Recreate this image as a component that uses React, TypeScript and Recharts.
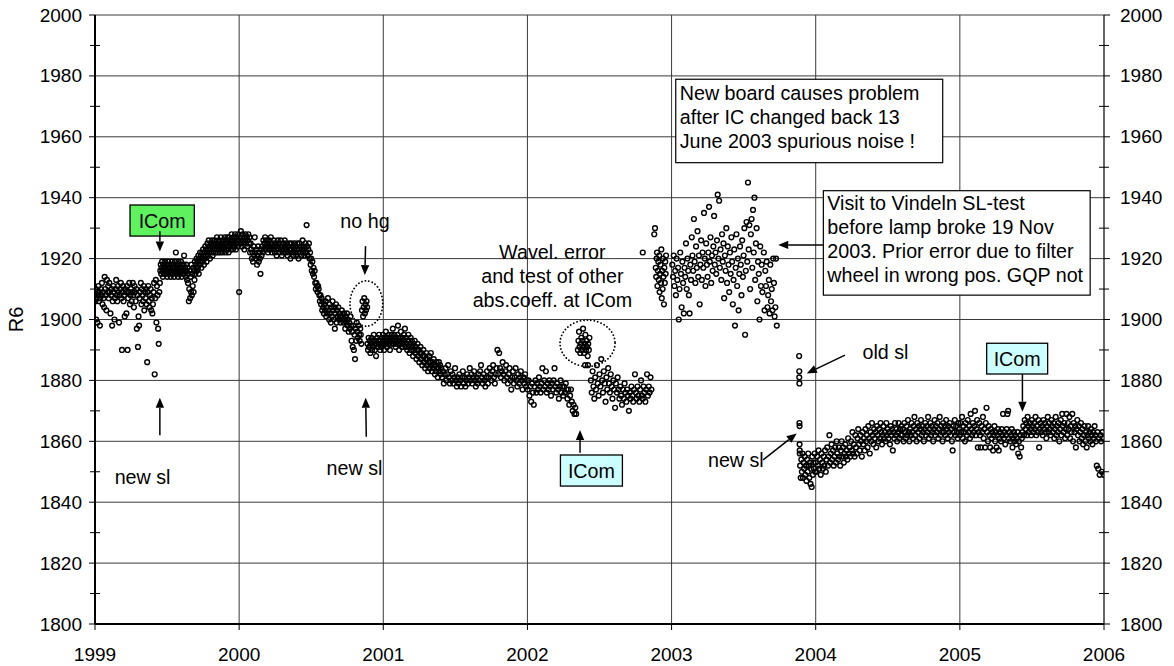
import React from 'react';
import { ScatterChart, Scatter, XAxis, YAxis, CartesianGrid, ReferenceLine, ReferenceArea, ReferenceDot } from 'recharts';

const FONT = '"Liberation Sans", Arial, Helvetica, sans-serif';
const TICK_FONT = 19;
const ANN_FONT = 19.7;
const LINE_H = 24.2;

const years = [1999, 2000, 2001, 2002, 2003, 2004, 2005, 2006];
const yTicks = [1800, 1810, 1820, 1830, 1840, 1850, 1860, 1870, 1880, 1890, 1900, 1910, 1920, 1930, 1940, 1950, 1960, 1970, 1980, 1990, 2000];
const gridY = [1820, 1840, 1860, 1880, 1900, 1920, 1940, 1960, 1980, 2000];
const gridX = [2000, 2001, 2002, 2003, 2004, 2005];

// R6 readings, [decimal year, R6]
const r6_1999 = [
  [1999.000,1908],[1999.003,1906],[1999.006,1910],[1999.008,1900],[1999.010,1907],[1999.014,1909],[1999.017,1899],[1999.020,1908],[1999.024,1911],[1999.027,1906],
  [1999.031,1909],[1999.034,1898],[1999.037,1907],[1999.041,1910],[1999.045,1908],[1999.048,1912],[1999.052,1905],[1999.056,1909],[1999.060,1907],[1999.063,1904],
  [1999.067,1914],[1999.071,1910],[1999.075,1908],[1999.079,1903],[1999.083,1913],[1999.087,1909],[1999.091,1911],[1999.095,1907],[1999.099,1912],[1999.103,1909],
  [1999.107,1902],[1999.111,1908],[1999.115,1910],[1999.119,1898],[1999.123,1906],[1999.127,1911],[1999.131,1909],[1999.135,1900],[1999.139,1907],[1999.143,1910],
  [1999.147,1913],[1999.151,1908],[1999.155,1906],[1999.159,1911],[1999.163,1909],[1999.167,1899],[1999.171,1908],[1999.175,1910],[1999.179,1912],[1999.183,1907],
  [1999.187,1890],[1999.190,1909],[1999.194,1911],[1999.198,1906],[1999.202,1908],[1999.206,1901],[1999.210,1910],[1999.214,1909],[1999.218,1902],[1999.222,1911],
  [1999.226,1890],[1999.230,1907],[1999.234,1909],[1999.238,1912],[1999.242,1905],[1999.246,1908],[1999.250,1910],[1999.254,1906],[1999.258,1909],[1999.262,1912],
  [1999.266,1908],[1999.270,1904],[1999.274,1911],[1999.278,1909],[1999.282,1906],[1999.286,1910],[1999.290,1897],[1999.294,1908],[1999.298,1891],[1999.302,1901],
  [1999.306,1898],[1999.310,1907],[1999.314,1909],[1999.318,1912],[1999.322,1905],[1999.326,1910],[1999.330,1908],[1999.334,1906],[1999.338,1911],[1999.342,1903],
  [1999.346,1909],[1999.350,1907],[1999.354,1910],[1999.358,1905],[1999.362,1886],[1999.366,1909],[1999.370,1911],[1999.374,1906],[1999.378,1904],[1999.382,1908],
  [1999.386,1910],[1999.390,1903],[1999.394,1907],[1999.398,1902],[1999.402,1905],[1999.406,1909],[1999.410,1912],[1999.414,1882],[1999.418,1907],[1999.422,1913],
  [1999.426,1899],[1999.430,1911],[1999.434,1908],[1999.438,1897],[1999.442,1892],[1999.446,1909],[1999.450,1912],
  [1999.453,1916],[1999.456,1918],[1999.459,1915],[1999.462,1917],[1999.465,1919],[1999.468,1916],[1999.471,1914],[1999.474,1918],[1999.477,1917],[1999.480,1915],
  [1999.483,1916],[1999.486,1919],[1999.489,1917],[1999.492,1915],[1999.495,1918],[1999.498,1916],[1999.501,1914],[1999.504,1917],[1999.507,1919],[1999.510,1916],
  [1999.513,1918],[1999.516,1915],[1999.519,1917],[1999.522,1916],[1999.525,1914],[1999.528,1918],[1999.531,1916],[1999.534,1919],[1999.537,1917],[1999.540,1915],
  [1999.543,1918],[1999.546,1916],[1999.549,1914],[1999.552,1917],[1999.555,1919],[1999.558,1916],[1999.561,1922],[1999.564,1915],[1999.567,1918],[1999.570,1916],
  [1999.573,1917],[1999.576,1914],[1999.579,1919],[1999.582,1916],[1999.585,1918],[1999.588,1915],[1999.591,1917],[1999.594,1916],[1999.597,1919],[1999.600,1914],
  [1999.603,1917],[1999.606,1918],[1999.609,1915],[1999.612,1916],[1999.615,1918],[1999.618,1921],[1999.621,1915],[1999.624,1917],[1999.627,1916],[1999.630,1914],
  [1999.633,1918],[1999.636,1916],[1999.639,1913],[1999.642,1917],[1999.645,1912],[1999.648,1915],[1999.651,1906],[1999.654,1910],[1999.657,1916],[1999.660,1907],
  [1999.663,1914],[1999.666,1909],[1999.669,1918],[1999.672,1908],[1999.675,1915],[1999.678,1911],[1999.681,1917],[1999.684,1909],[1999.687,1916],[1999.690,1913],
  [1999.693,1919],[1999.696,1915],[1999.699,1918],[1999.702,1917],[1999.705,1920],[1999.708,1916],
  [1999.711,1919],[1999.714,1917],[1999.717,1921],[1999.720,1915],[1999.723,1920],[1999.726,1918],[1999.729,1922],[1999.732,1919],[1999.735,1921],[1999.738,1917],
  [1999.741,1920],[1999.744,1922],[1999.747,1919],[1999.750,1923],[1999.753,1921],[1999.756,1918],[1999.759,1922],[1999.762,1920],[1999.765,1924],[1999.768,1921],
  [1999.771,1923],[1999.774,1919],[1999.777,1922],[1999.780,1925],[1999.783,1921],[1999.786,1923],[1999.789,1926],[1999.792,1922],[1999.795,1924],[1999.798,1920],
  [1999.801,1923],[1999.804,1925],[1999.807,1922],[1999.810,1924],[1999.813,1926],[1999.816,1921],[1999.819,1924],[1999.822,1922],[1999.825,1925],[1999.828,1923],
  [1999.831,1926],[1999.834,1924],[1999.837,1922],[1999.840,1925],[1999.843,1923],[1999.846,1927],[1999.849,1924],[1999.852,1922],[1999.855,1925],[1999.858,1923],
  [1999.861,1926],[1999.864,1924],[1999.867,1922],[1999.870,1925],[1999.873,1927],[1999.876,1923],[1999.879,1925],[1999.882,1924],[1999.885,1922],[1999.888,1926],
  [1999.891,1924],[1999.894,1923],[1999.897,1925],[1999.900,1927],[1999.903,1924],[1999.906,1922],[1999.909,1926],[1999.912,1925],[1999.915,1923],[1999.918,1927],
  [1999.921,1924],[1999.924,1926],[1999.927,1922],[1999.930,1925],[1999.933,1927],[1999.936,1924],[1999.939,1926],[1999.942,1923],[1999.945,1925],[1999.948,1928],
  [1999.951,1924],[1999.954,1926],[1999.957,1923],[1999.960,1925],[1999.963,1927],[1999.966,1924],[1999.969,1926],[1999.972,1928],[1999.975,1925],[1999.978,1923],
  [1999.981,1927],[1999.984,1925],[1999.987,1926],[1999.990,1924],[1999.993,1928],[1999.996,1926],
];

const r6_2000 = [
  [2000.000,1909],[2000.004,1927],[2000.008,1925],[2000.012,1929],[2000.016,1926],[2000.020,1924],[2000.024,1928],[2000.028,1925],[2000.032,1927],[2000.036,1923],
  [2000.040,1926],[2000.044,1928],[2000.048,1925],[2000.052,1927],[2000.056,1924],[2000.060,1926],[2000.064,1928],[2000.068,1925],[2000.072,1927],[2000.076,1922],
  [2000.080,1925],[2000.084,1923],[2000.088,1920],[2000.092,1922],[2000.096,1919],[2000.100,1924],[2000.104,1921],[2000.108,1927],[2000.112,1922],[2000.116,1920],
  [2000.120,1923],[2000.124,1918],[2000.128,1921],[2000.132,1924],[2000.136,1919],[2000.140,1922],[2000.144,1920],[2000.148,1915],[2000.152,1923],[2000.156,1921],
  [2000.160,1924],[2000.164,1922],[2000.168,1926],[2000.172,1923],[2000.176,1925],[2000.180,1927],[2000.184,1924],[2000.188,1926],[2000.192,1923],[2000.196,1925],
  [2000.200,1922],[2000.204,1924],[2000.208,1926],[2000.212,1923],[2000.216,1925],[2000.220,1927],[2000.224,1924],[2000.228,1922],[2000.232,1925],[2000.236,1923],
  [2000.240,1926],[2000.244,1924],[2000.248,1922],[2000.252,1925],[2000.256,1923],[2000.260,1921],[2000.264,1924],[2000.268,1926],[2000.272,1923],[2000.276,1925],
  [2000.280,1922],[2000.284,1924],[2000.288,1926],[2000.292,1923],[2000.296,1921],[2000.300,1924],[2000.304,1922],[2000.308,1925],[2000.312,1923],[2000.316,1926],
  [2000.320,1924],[2000.324,1922],[2000.328,1925],[2000.332,1923],[2000.336,1921],[2000.340,1924],[2000.344,1922],[2000.348,1925],[2000.352,1923],[2000.356,1920],
  [2000.360,1923],[2000.364,1925],[2000.368,1922],[2000.372,1924],[2000.376,1921],[2000.380,1923],[2000.384,1925],[2000.388,1922],[2000.392,1924],[2000.396,1921],
  [2000.400,1923],[2000.404,1925],[2000.408,1922],[2000.412,1920],[2000.416,1923],[2000.420,1925],[2000.424,1922],[2000.428,1924],[2000.432,1921],[2000.436,1923],
  [2000.440,1926],[2000.444,1922],[2000.448,1924],[2000.452,1921],[2000.456,1923],[2000.460,1925],[2000.464,1922],[2000.468,1931],[2000.472,1924],[2000.476,1921],
  [2000.480,1923],[2000.484,1925],[2000.488,1920],
  [2000.492,1922],[2000.496,1918],[2000.500,1920],[2000.504,1916],[2000.508,1919],[2000.512,1915],[2000.516,1917],[2000.520,1914],[2000.524,1916],[2000.528,1912],
  [2000.532,1910],[2000.536,1912],[2000.540,1911],[2000.544,1909],[2000.548,1911],[2000.552,1910],[2000.556,1908],[2000.560,1906],[2000.564,1908],[2000.568,1905],
  [2000.572,1907],[2000.576,1903],[2000.580,1906],[2000.584,1904],[2000.588,1902],[2000.592,1905],[2000.596,1903],[2000.600,1906],[2000.604,1901],[2000.608,1904],
  [2000.612,1902],[2000.616,1907],[2000.620,1903],[2000.624,1900],[2000.628,1905],[2000.632,1902],[2000.636,1899],[2000.640,1904],[2000.644,1901],[2000.648,1906],
  [2000.652,1903],[2000.656,1900],[2000.660,1904],[2000.664,1897],[2000.668,1902],[2000.672,1905],[2000.676,1899],[2000.680,1903],[2000.684,1901],[2000.688,1904],
  [2000.692,1900],[2000.696,1902],[2000.700,1901],[2000.704,1899],[2000.708,1901],[2000.712,1903],[2000.716,1900],[2000.720,1901],[2000.724,1899],[2000.728,1902],
  [2000.732,1900],[2000.736,1897],[2000.740,1901],[2000.744,1899],[2000.748,1902],[2000.752,1898],[2000.756,1900],[2000.760,1896],[2000.764,1899],[2000.768,1897],
  [2000.772,1901],[2000.776,1898],[2000.780,1893],[2000.784,1896],[2000.788,1891],[2000.792,1898],[2000.796,1890],[2000.800,1895],[2000.804,1887],[2000.808,1897],
  [2000.812,1893],[2000.816,1899],[2000.820,1896],[2000.824,1894],[2000.828,1898],[2000.832,1895],[2000.836,1893],[2000.840,1897],[2000.844,1895],[2000.848,1892],
  [2000.852,1903],[2000.856,1906],[2000.860,1901],[2000.864,1904],[2000.868,1907],[2000.872,1902],[2000.876,1905],[2000.880,1903],[2000.884,1906],[2000.888,1904],
  [2000.890,1892],[2000.894,1890],[2000.898,1894],[2000.902,1891],[2000.906,1893],[2000.910,1889],[2000.914,1892],[2000.918,1894],[2000.922,1890],[2000.926,1893],
  [2000.930,1891],[2000.934,1895],[2000.938,1892],[2000.942,1890],[2000.946,1893],[2000.950,1888],[2000.954,1892],[2000.958,1894],[2000.962,1891],[2000.966,1893],
  [2000.970,1895],[2000.974,1892],[2000.978,1890],[2000.982,1893],[2000.986,1891],[2000.990,1894],[2000.994,1892],[2000.998,1895],
];

const r6_2001 = [
  [2001.002,1893],[2001.006,1890],[2001.010,1894],[2001.014,1892],[2001.018,1896],[2001.022,1893],[2001.026,1891],[2001.030,1894],[2001.034,1892],[2001.038,1895],
  [2001.042,1893],[2001.046,1890],[2001.050,1894],[2001.054,1892],[2001.058,1895],[2001.062,1893],[2001.066,1897],[2001.070,1894],[2001.074,1892],[2001.078,1895],
  [2001.082,1893],[2001.086,1891],[2001.090,1894],[2001.094,1892],[2001.098,1895],[2001.102,1898],[2001.106,1893],[2001.110,1890],[2001.114,1894],[2001.118,1892],
  [2001.122,1896],[2001.126,1893],[2001.130,1891],[2001.134,1894],[2001.138,1892],
  [2001.142,1895],[2001.146,1893],[2001.150,1897],[2001.154,1891],[2001.158,1894],[2001.162,1892],[2001.166,1890],[2001.170,1893],[2001.174,1895],[2001.178,1891],
  [2001.182,1889],[2001.186,1892],[2001.190,1894],[2001.194,1890],[2001.198,1893],[2001.202,1891],[2001.206,1888],[2001.210,1892],[2001.214,1890],[2001.218,1893],
  [2001.222,1889],[2001.226,1891],[2001.230,1887],[2001.234,1890],[2001.238,1892],[2001.242,1888],[2001.246,1890],[2001.250,1886],[2001.254,1889],[2001.258,1891],
  [2001.262,1887],[2001.266,1889],[2001.270,1885],[2001.274,1888],[2001.278,1890],[2001.282,1886],[2001.286,1888],[2001.290,1884],[2001.294,1887],[2001.298,1889],
  [2001.302,1885],[2001.306,1887],[2001.310,1883],[2001.314,1886],[2001.318,1888],[2001.322,1884],[2001.326,1886],[2001.330,1889],[2001.334,1885],[2001.338,1883],
  [2001.342,1886],[2001.346,1884],[2001.350,1887],[2001.354,1885],[2001.358,1882],[2001.362,1885],[2001.366,1883],[2001.370,1886],[2001.374,1884],[2001.378,1881],
  [2001.382,1884],[2001.386,1886],[2001.390,1883],[2001.394,1885],[2001.398,1882],
  [2001.402,1884],[2001.408,1881],[2001.414,1883],[2001.420,1879],[2001.426,1882],[2001.432,1884],[2001.438,1880],[2001.444,1882],[2001.450,1885],[2001.456,1881],
  [2001.462,1879],[2001.468,1883],[2001.474,1880],[2001.480,1882],[2001.486,1879],[2001.492,1881],[2001.498,1884],[2001.504,1880],[2001.510,1878],[2001.516,1881],
  [2001.522,1879],[2001.528,1882],[2001.534,1880],[2001.540,1878],[2001.546,1881],[2001.552,1883],[2001.558,1879],[2001.564,1881],[2001.570,1878],[2001.576,1880],
  [2001.582,1882],[2001.588,1879],[2001.594,1881],[2001.600,1884],[2001.606,1880],[2001.612,1882],[2001.618,1879],[2001.624,1881],[2001.630,1883],[2001.636,1880],
  [2001.642,1878],[2001.648,1881],[2001.654,1879],[2001.660,1882],[2001.666,1880],[2001.672,1883],[2001.678,1885],[2001.684,1881],[2001.690,1879],[2001.696,1882],
  [2001.702,1880],[2001.708,1878],[2001.714,1881],[2001.720,1883],[2001.726,1879],[2001.732,1881],[2001.738,1884],[2001.744,1882],[2001.750,1880],[2001.756,1883],
  [2001.762,1885],[2001.768,1881],[2001.774,1879],[2001.780,1882],[2001.786,1884],[2001.792,1890],[2001.798,1882],[2001.804,1889],[2001.810,1884],[2001.816,1881],
  [2001.822,1883],[2001.828,1886],[2001.834,1882],[2001.840,1880],[2001.846,1883],[2001.852,1885],[2001.858,1881],[2001.864,1879],[2001.870,1882],[2001.876,1884],
  [2001.882,1880],[2001.888,1877],[2001.894,1881],[2001.900,1883],[2001.906,1879],[2001.912,1881],[2001.918,1884],[2001.924,1880],[2001.930,1878],[2001.936,1882],
  [2001.942,1879],[2001.948,1881],[2001.954,1883],[2001.960,1880],[2001.966,1877],[2001.972,1881],[2001.978,1879],[2001.984,1882],[2001.990,1878],[2001.996,1880],
];

const r6_2002 = [
  [2002.002,1877],[2002.008,1880],[2002.014,1875],[2002.020,1878],[2002.026,1873],[2002.032,1879],[2002.038,1876],[2002.044,1872],[2002.050,1878],[2002.056,1880],
  [2002.062,1876],[2002.068,1879],[2002.074,1877],[2002.080,1881],[2002.086,1878],[2002.092,1876],[2002.098,1879],[2002.104,1884],[2002.110,1877],[2002.116,1880],
  [2002.122,1878],[2002.128,1883],[2002.134,1876],[2002.140,1879],[2002.146,1877],[2002.152,1880],[2002.158,1878],[2002.164,1875],[2002.170,1879],[2002.176,1877],
  [2002.182,1880],[2002.188,1884],[2002.194,1878],[2002.200,1876],[2002.206,1879],[2002.212,1877],[2002.218,1874],[2002.224,1878],[2002.230,1880],[2002.236,1876],
  [2002.242,1878],[2002.248,1875],[2002.254,1878],[2002.260,1876],[2002.266,1879],[2002.272,1877],[2002.278,1874],[2002.284,1877],[2002.290,1872],[2002.296,1875],
  [2002.302,1877],[2002.308,1873],[2002.314,1870],[2002.320,1872],[2002.326,1869],[2002.332,1871],[2002.338,1869],
  [2002.350,1890],[2002.354,1893],[2002.358,1896],[2002.362,1891],[2002.366,1889],[2002.370,1892],[2002.374,1894],[2002.378,1890],[2002.382,1893],[2002.386,1897],
  [2002.390,1891],[2002.394,1889],[2002.398,1892],[2002.402,1895],[2002.406,1890],[2002.410,1893],[2002.414,1891],[2002.418,1888],[2002.422,1892],[2002.426,1890],
  [2002.430,1894],[2002.400,1885],[2002.420,1885],
  [2002.440,1880],[2002.446,1876],[2002.452,1883],[2002.458,1878],[2002.464,1874],[2002.470,1881],[2002.476,1877],[2002.482,1885],[2002.488,1879],[2002.494,1875],
  [2002.500,1882],[2002.506,1878],[2002.512,1887],[2002.518,1880],[2002.524,1876],[2002.530,1883],[2002.536,1879],[2002.542,1873],[2002.548,1881],[2002.554,1877],
  [2002.560,1884],[2002.566,1879],[2002.572,1876],[2002.578,1882],[2002.584,1878],[2002.590,1874],[2002.596,1880],[2002.602,1877],[2002.608,1871],[2002.614,1879],
  [2002.620,1876],[2002.626,1881],[2002.632,1877],[2002.638,1874],[2002.644,1878],[2002.650,1875],[2002.656,1872],[2002.662,1877],[2002.668,1874],[2002.674,1879],
  [2002.680,1876],[2002.686,1873],[2002.692,1877],[2002.698,1875],[2002.704,1870],[2002.710,1876],[2002.716,1874],[2002.722,1878],[2002.728,1875],[2002.734,1873],
  [2002.740,1877],[2002.746,1882],[2002.752,1876],[2002.758,1874],[2002.764,1878],[2002.770,1875],[2002.776,1873],[2002.782,1877],[2002.788,1880],[2002.794,1875],
  [2002.800,1874],[2002.806,1878],[2002.812,1876],[2002.818,1873],[2002.824,1877],[2002.830,1882],[2002.836,1875],[2002.842,1878],[2002.848,1876],[2002.854,1881],
  [2002.860,1877],
  [2002.800,1922],[2002.880,1928],[2002.885,1930],[2002.890,1917],[2002.893,1914],[2002.896,1920],[2002.899,1922],[2002.902,1911],[2002.905,1916],[2002.908,1919],
  [2002.911,1913],[2002.914,1921],[2002.917,1909],[2002.920,1915],[2002.923,1918],[2002.926,1912],[2002.929,1923],[2002.932,1907],[2002.935,1916],[2002.938,1910],
  [2002.941,1920],[2002.944,1914],[2002.947,1905],[2002.950,1917],[2002.953,1912],[2002.956,1919],[2002.959,1915],[2002.962,1921],
];

const r6_2003 = [
  [2003.005,1918],[2003.010,1914],[2003.015,1921],[2003.020,1911],[2003.025,1916],[2003.030,1908],[2003.035,1920],[2003.040,1913],[2003.045,1917],[2003.050,1900],
  [2003.055,1910],[2003.060,1922],[2003.065,1915],[2003.070,1904],[2003.075,1919],[2003.080,1912],[2003.085,1902],[2003.090,1917],[2003.095,1914],[2003.100,1925],
  [2003.105,1910],[2003.110,1920],[2003.115,1916],[2003.120,1908],[2003.125,1902],[2003.130,1918],
  [2003.135,1913],[2003.140,1927],[2003.145,1921],[2003.150,1916],[2003.155,1933],[2003.160,1919],[2003.165,1912],[2003.170,1924],[2003.175,1917],[2003.180,1929],
  [2003.185,1914],[2003.190,1921],[2003.195,1905],[2003.200,1918],[2003.205,1926],[2003.210,1913],[2003.215,1922],[2003.220,1917],[2003.225,1935],[2003.230,1920],
  [2003.235,1911],[2003.240,1925],[2003.245,1918],[2003.250,1914],[2003.255,1922],[2003.260,1937],[2003.265,1919],[2003.270,1927],[2003.275,1912],[2003.280,1921],
  [2003.285,1916],[2003.290,1924],[2003.295,1934],[2003.300,1918],[2003.305,1922],[2003.310,1915],[2003.315,1926],[2003.320,1941],[2003.325,1920],[2003.330,1939],
  [2003.335,1917],[2003.340,1923],[2003.345,1913],[2003.350,1928],[2003.355,1919],[2003.360,1925],[2003.365,1907],
  [2003.370,1921],[2003.375,1916],[2003.380,1930],[2003.385,1912],[2003.390,1924],[2003.395,1918],[2003.400,1909],[2003.405,1922],[2003.410,1915],[2003.415,1927],
  [2003.420,1919],[2003.425,1905],[2003.430,1913],[2003.435,1923],[2003.440,1898],[2003.445,1917],[2003.450,1928],[2003.455,1911],[2003.460,1920],[2003.465,1903],
  [2003.470,1915],[2003.475,1924],[2003.480,1918],[2003.485,1908],[2003.490,1926],[2003.495,1914],[2003.500,1921],[2003.505,1930],[2003.510,1895],[2003.515,1916],
  [2003.520,1932],[2003.525,1919],[2003.530,1945],[2003.535,1923],[2003.540,1931],[2003.545,1910],[2003.550,1928],[2003.555,1933],[2003.560,1917],[2003.565,1936],
  [2003.570,1922],[2003.575,1940],[2003.580,1913],[2003.585,1925],[2003.590,1930],[2003.595,1906],[2003.600,1919],[2003.605,1915],[2003.610,1900],[2003.615,1924],
  [2003.620,1911],[2003.625,1918],
  [2003.630,1909],[2003.640,1922],[2003.645,1903],[2003.650,1916],[2003.655,1911],[2003.660,1919],[2003.665,1904],[2003.670,1908],[2003.675,1913],[2003.680,1902],
  [2003.685,1918],[2003.690,1906],[2003.695,1910],[2003.700,1903],[2003.705,1920],[2003.710,1912],[2003.715,1901],[2003.720,1904],[2003.725,1920],[2003.730,1898],
  [2003.885,1888],[2003.886,1883],[2003.886,1881],[2003.887,1879],[2003.887,1866],[2003.888,1865],[2003.888,1859],[2003.889,1857],[2003.889,1856],
  [2003.892,1852],[2003.896,1848],[2003.900,1854],[2003.904,1850],[2003.908,1856],[2003.912,1848],[2003.916,1853],[2003.920,1851],[2003.924,1855],[2003.928,1849],
  [2003.932,1852],[2003.936,1847],[2003.940,1854],[2003.944,1850],[2003.948,1856],[2003.952,1852],[2003.956,1848],[2003.960,1853],[2003.964,1846],[2003.968,1851],
  [2003.972,1845],[2003.976,1855],[2003.980,1849],[2003.984,1853],[2003.988,1851],[2003.992,1856],[2003.996,1850],
];

const r6_2004 = [
  [2004.000,1853],[2004.005,1850],[2004.010,1855],[2004.015,1852],[2004.020,1857],[2004.025,1851],[2004.030,1854],[2004.035,1849],[2004.040,1856],[2004.045,1853],
  [2004.050,1851],[2004.055,1855],[2004.060,1852],[2004.065,1857],[2004.070,1850],[2004.075,1854],[2004.080,1858],[2004.085,1852],[2004.090,1855],[2004.095,1862],
  [2004.100,1853],[2004.105,1856],[2004.110,1859],[2004.115,1854],[2004.120,1857],[2004.125,1852],[2004.130,1855],[2004.135,1858],[2004.140,1853],[2004.145,1860],
  [2004.150,1856],[2004.155,1854],[2004.160,1858],[2004.165,1855],[2004.170,1852],[2004.175,1857],[2004.180,1860],[2004.185,1855],[2004.190,1858],[2004.195,1853],
  [2004.200,1856],[2004.205,1859],[2004.210,1855],[2004.215,1857],[2004.220,1854],[2004.225,1861],[2004.230,1856],[2004.235,1858],[2004.240,1855],[2004.245,1860],
  [2004.250,1857],[2004.255,1863],[2004.260,1856],[2004.265,1859],[2004.270,1855],[2004.275,1862],[2004.280,1858],[2004.285,1856],[2004.290,1861],[2004.295,1864],
  [2004.300,1859],[2004.305,1857],[2004.310,1862],[2004.315,1860],[2004.320,1855],[2004.325,1863],[2004.330,1859],[2004.335,1861],[2004.340,1857],[2004.345,1864],
  [2004.350,1860],[2004.355,1862],[2004.360,1858],[2004.365,1865],[2004.370,1861],[2004.375,1856],[2004.380,1863],[2004.385,1860],[2004.390,1866],[2004.395,1862],
  [2004.400,1859],[2004.405,1864],[2004.410,1861],[2004.415,1863],[2004.420,1858],[2004.425,1865],[2004.430,1862],[2004.435,1860],[2004.440,1864],[2004.445,1861],
  [2004.450,1866],[2004.455,1863],[2004.460,1859],[2004.465,1862],[2004.470,1865],[2004.475,1861],[2004.480,1863],[2004.485,1860],[2004.490,1866],[2004.495,1862],
  [2004.500,1864],[2004.505,1861],[2004.510,1863],[2004.515,1859],[2004.520,1865],[2004.525,1862],[2004.530,1864],[2004.535,1857],[2004.540,1863],[2004.545,1861],
  [2004.550,1866],[2004.555,1862],[2004.560,1864],[2004.565,1860],[2004.570,1863],[2004.575,1866],[2004.580,1861],[2004.585,1864],[2004.590,1862],
  [2004.595,1865],[2004.600,1862],[2004.605,1864],[2004.610,1860],[2004.615,1866],[2004.620,1863],[2004.625,1861],[2004.630,1865],[2004.635,1862],[2004.640,1867],
  [2004.645,1863],[2004.650,1860],[2004.655,1864],[2004.660,1862],[2004.665,1866],[2004.670,1863],[2004.675,1861],[2004.680,1865],[2004.685,1868],[2004.690,1862],
  [2004.695,1864],[2004.700,1860],[2004.705,1866],[2004.710,1863],[2004.715,1865],[2004.720,1861],[2004.725,1864],[2004.730,1867],[2004.735,1862],[2004.740,1865],
  [2004.745,1863],[2004.750,1860],[2004.755,1864],[2004.760,1866],[2004.765,1862],[2004.770,1865],[2004.775,1863],[2004.780,1868],[2004.785,1861],[2004.790,1864],
  [2004.795,1866],[2004.800,1862],[2004.805,1865],[2004.810,1863],[2004.815,1860],[2004.820,1864],[2004.825,1867],[2004.830,1862],[2004.835,1865],[2004.840,1863],
  [2004.845,1866],[2004.850,1861],[2004.855,1864],[2004.860,1868],[2004.865,1862],[2004.870,1865],[2004.875,1863],[2004.880,1860],[2004.885,1866],[2004.890,1863],
  [2004.895,1865],[2004.900,1862],[2004.905,1867],[2004.910,1864],[2004.915,1861],[2004.920,1865],[2004.925,1863],[2004.930,1866],[2004.935,1862],[2004.940,1864],
  [2004.945,1860],[2004.950,1857],[2004.955,1865],[2004.960,1863],[2004.965,1867],[2004.970,1862],[2004.975,1865],[2004.980,1863],[2004.985,1861],[2004.990,1866],
  [2004.995,1864],
];

const r6_2005 = [
  [2005.000,1862],[2005.005,1866],[2005.010,1863],[2005.015,1868],[2005.020,1861],[2005.025,1865],[2005.030,1863],[2005.035,1860],[2005.040,1866],[2005.045,1864],
  [2005.050,1862],[2005.055,1867],[2005.060,1863],[2005.065,1865],[2005.070,1861],[2005.075,1869],[2005.080,1864],[2005.085,1862],[2005.090,1866],[2005.095,1863],
  [2005.100,1865],[2005.105,1870],[2005.110,1862],[2005.115,1864],[2005.120,1867],[2005.125,1858],[2005.130,1863],[2005.135,1866],[2005.140,1862],[2005.145,1858],
  [2005.150,1865],[2005.155,1863],[2005.160,1868],[2005.165,1861],[2005.170,1864],[2005.175,1858],[2005.180,1866],[2005.185,1871],[2005.190,1863],[2005.195,1860],
  [2005.200,1865],[2005.205,1862],[2005.210,1858],[2005.215,1864],[2005.220,1861],[2005.225,1863],[2005.230,1857],[2005.235,1862],[2005.240,1865],[2005.245,1860],
  [2005.250,1863],[2005.255,1858],[2005.260,1862],[2005.265,1864],[2005.270,1857],[2005.275,1861],[2005.280,1863],[2005.285,1860],[2005.290,1864],[2005.295,1862],
  [2005.300,1869],[2005.305,1861],[2005.310,1863],[2005.315,1859],[2005.320,1862],[2005.325,1864],[2005.330,1869],[2005.335,1870],[2005.340,1861],[2005.345,1863],
  [2005.350,1860],[2005.355,1862],[2005.360,1864],[2005.365,1858],[2005.370,1861],[2005.375,1863],[2005.380,1860],[2005.385,1862],[2005.390,1859],[2005.395,1861],
  [2005.400,1863],[2005.405,1856],[2005.410,1860],[2005.415,1855],[2005.420,1862],[2005.425,1858],[2005.430,1861],[2005.435,1863],
  [2005.440,1865],[2005.445,1862],[2005.450,1867],[2005.455,1864],[2005.460,1866],[2005.465,1862],[2005.470,1868],[2005.475,1865],[2005.480,1863],[2005.485,1866],
  [2005.490,1864],[2005.495,1862],[2005.500,1867],[2005.505,1865],[2005.510,1863],[2005.515,1866],[2005.520,1864],[2005.525,1868],[2005.530,1862],[2005.535,1865],
  [2005.540,1863],[2005.545,1867],[2005.550,1858],[2005.555,1864],[2005.560,1866],[2005.565,1863],[2005.570,1865],[2005.575,1862],[2005.580,1867],[2005.585,1864],
  [2005.590,1866],[2005.595,1863],[2005.600,1861],[2005.605,1865],[2005.610,1868],[2005.615,1863],[2005.620,1866],[2005.625,1864],[2005.630,1862],[2005.635,1867],
  [2005.640,1865],[2005.645,1863],[2005.650,1866],[2005.655,1861],[2005.660,1864],[2005.665,1868],[2005.670,1862],[2005.675,1865],[2005.680,1863],[2005.685,1866],
  [2005.690,1860],[2005.695,1864],[2005.700,1867],[2005.705,1862],[2005.710,1869],[2005.715,1865],[2005.720,1863],[2005.725,1866],[2005.730,1861],[2005.735,1864],
  [2005.740,1869],[2005.745,1862],[2005.750,1866],[2005.755,1864],[2005.760,1868],[2005.765,1861],[2005.770,1865],[2005.775,1863],[2005.780,1869],[2005.785,1860],
  [2005.790,1866],[2005.795,1863],[2005.800,1865],[2005.805,1858],[2005.810,1864],[2005.815,1867],[2005.820,1862],[2005.825,1865],[2005.830,1860],[2005.835,1863],
  [2005.840,1866],[2005.845,1861],[2005.850,1864],[2005.855,1859],[2005.860,1862],[2005.865,1865],[2005.870,1860],[2005.875,1863],[2005.880,1858],[2005.885,1862],
  [2005.890,1865],[2005.895,1861],[2005.900,1863],[2005.905,1860],[2005.910,1864],[2005.915,1862],[2005.920,1859],[2005.925,1863],[2005.930,1861],[2005.935,1865],
  [2005.940,1862],[2005.945,1860],[2005.950,1852],[2005.955,1863],[2005.960,1851],[2005.965,1861],[2005.970,1849],[2005.975,1862],[2005.980,1860],[2005.985,1850],
  [2005.990,1863],[2005.995,1861],[2005.998,1849],
];

const points = [...r6_1999, ...r6_2000, ...r6_2001, ...r6_2002, ...r6_2003, ...r6_2004, ...r6_2005].map(([x, y]) => ({ x, y }));

const Ring = (p: any) => <circle cx={p.cx} cy={p.cy} r={2.4} fill="none" stroke="#000" strokeWidth={1.4} />;

const Arrow = (p: any) => {
  const x1 = Number(p.x1), y1 = Number(p.y1), x2 = Number(p.x2), y2 = Number(p.y2);
  const a = Math.atan2(y2 - y1, x2 - x1);
  const len = 10, hw = 4.2;
  const bx = x2 - len * Math.cos(a), by = y2 - len * Math.sin(a);
  const s = Math.sin(a), c = Math.cos(a);
  const pts = `${x2},${y2} ${bx - hw * s},${by + hw * c} ${bx + hw * s},${by - hw * c}`;
  return (
    <g>
      <line x1={x1} y1={y1} x2={bx} y2={by} stroke="#000" strokeWidth={1.5} />
      <polygon points={pts} fill="#000" />
    </g>
  );
};

const textAt = (lines: string[]) => (p: any) => (
  <text x={p.cx} y={p.cy - ((lines.length - 1) * LINE_H) / 2} textAnchor="middle" dominantBaseline="central"
    fontSize={ANN_FONT} fontFamily={FONT} fill="#000">
    {lines.map((l, i) => (
      <tspan key={i} x={p.cx} dy={i === 0 ? 0 : LINE_H}>{l}</tspan>
    ))}
  </text>
);

const noteBox = (lines: string[], top: number) => (p: any) => (
  <g>
    <rect x={p.x} y={p.y} width={p.width} height={p.height} fill="#fff" stroke="#000" strokeWidth={1.2} />
    <text x={p.x + 4} y={p.y + top} dominantBaseline="central" fontSize={ANN_FONT} fontFamily={FONT} fill="#000">
      {lines.map((l, i) => (
        <tspan key={i} x={p.x + 4} dy={i === 0 ? 0 : LINE_H}>{l}</tspan>
      ))}
    </text>
  </g>
);

const tagBox = (label: string, fill: string) => (p: any) => (
  <g>
    <rect x={p.x} y={p.y} width={p.width} height={p.height} fill={fill} stroke="#000" strokeWidth={1.3} />
    <text x={p.x + p.width / 2} y={p.y + p.height / 2} textAnchor="middle" dominantBaseline="central"
      fontSize={ANN_FONT} fontFamily={FONT} fill="#000">{label}</text>
  </g>
);

const Ellipse = (p: any) => (
  <ellipse cx={p.x + p.width / 2} cy={p.y + p.height / 2} rx={p.width / 2} ry={p.height / 2}
    fill="none" stroke="#000" strokeWidth={1.8} strokeDasharray="0.1 3.4" strokeLinecap="round" />
);

const YTick = (p: any) => {
  const { x, y, payload, side } = p;
  const v = payload.value;
  const major = v % 20 === 0;
  const left = side === 'left';
  const ax = left ? x + 7 + 6 : x - 10 - 6;
  return (
    <g>
      {major ? (
        <line x1={ax} x2={left ? ax - 6 : ax + 6} y1={y} y2={y} stroke="#000" />
      ) : (
        <line x1={ax - 5} x2={ax + 5} y1={y} y2={y} stroke="#000" />
      )}
      {major && (
        <text x={x} y={y} textAnchor={left ? 'end' : 'start'} dominantBaseline="central"
          fontSize={TICK_FONT} fontFamily={FONT} fill="#000">{v}</text>
      )}
    </g>
  );
};

const R6Label = (p: any) => {
  const vb = p.viewBox;
  const cx = vb.x + 16;
  const cy = vb.y + vb.height / 2;
  return (
    <text x={cx} y={cy} transform={`rotate(-90 ${cx} ${cy})`} textAnchor="middle" dominantBaseline="central"
      fontSize={20} fontFamily={FONT} fill="#000">R6</text>
  );
};

export default function App() {
  return (
    <div style={{ position: 'absolute', left: 0, top: 0 }}>
      <ScatterChart width={1174} height={666} margin={{ top: 15, right: 0, bottom: 0, left: 0 }} style={{ fontFamily: FONT }}>
        <CartesianGrid yAxisId="left" stroke="#3a3a3a" strokeWidth={1} horizontalValues={gridY} verticalValues={gridX} />
        <XAxis type="number" dataKey="x" domain={[1999, 2006]} ticks={years} interval={0} allowDataOverflow
          height={42} tickSize={6} tickMargin={18}
          axisLine={{ stroke: '#000', strokeWidth: 2 }} tickLine={{ stroke: '#000' }}
          tick={{ fill: '#000', fontSize: TICK_FONT, fontFamily: FONT }} />
        <YAxis yAxisId="left" type="number" dataKey="y" domain={[1800, 2000]} ticks={yTicks} interval={0} allowDataOverflow
          width={95} tickSize={6} tickMargin={7} tickLine={false}
          axisLine={{ stroke: '#000', strokeWidth: 2 }}
          tick={(p: any) => <YTick {...p} side="left" />} label={R6Label} />
        <YAxis yAxisId="right" orientation="right" type="number" domain={[1800, 2000]} ticks={yTicks} interval={0} allowDataOverflow
          width={70} tickSize={6} tickMargin={10} tickLine={false}
          axisLine={{ stroke: '#000', strokeWidth: 1.2 }}
          tick={(p: any) => <YTick {...p} side="right" />} />

        <Scatter yAxisId="left" data={points} shape={Ring} isAnimationActive={false} />

        <ReferenceArea yAxisId="left" x1={1999.243} x2={1999.689} y1={1927.4} y2={1937.6} shape={tagBox('ICom', '#5ef25e')} />
        <ReferenceLine yAxisId="left" segment={[{ x: 1999.45, y: 1929 }, { x: 1999.45, y: 1922.3 }]} shape={Arrow} />

        <ReferenceDot yAxisId="left" x={2000.873} y={1932.4} r={1} shape={textAt(['no hg'])} />
        <ReferenceLine yAxisId="left" segment={[{ x: 2000.877, y: 1924.1 }, { x: 2000.872, y: 1914.6 }]} shape={Arrow} />
        <ReferenceArea yAxisId="left" x1={2000.769} x2={2000.996} y1={1897.8} y2={1912.7} shape={Ellipse} />

        <ReferenceDot yAxisId="left" x={1999.33} y={1848.3} r={1} shape={textAt(['new sl'])} />
        <ReferenceLine yAxisId="left" segment={[{ x: 1999.45, y: 1862 }, { x: 1999.45, y: 1874.3 }]} shape={Arrow} />
        <ReferenceDot yAxisId="left" x={2000.80} y={1851.2} r={1} shape={textAt(['new sl'])} />
        <ReferenceLine yAxisId="left" segment={[{ x: 2000.882, y: 1861.5 }, { x: 2000.878, y: 1874.3 }]} shape={Arrow} />

        <ReferenceDot yAxisId="left" x={2002.173} y={1914.2} r={1} shape={textAt(['Wavel. error', 'and test of other', 'abs.coeff. at ICom'])} />
        <ReferenceArea yAxisId="left" x1={2002.226} x2={2002.608} y1={1884.6} y2={1899.8} shape={Ellipse} />

        <ReferenceArea yAxisId="left" x1={2002.229} x2={2002.659} y1={1845.3} y2={1855.5} shape={tagBox('ICom', '#ccffff')} />
        <ReferenceLine yAxisId="left" segment={[{ x: 2002.365, y: 1856.2 }, { x: 2002.365, y: 1863.7 }]} shape={Arrow} />

        <ReferenceArea yAxisId="left" x1={2003.029} x2={2004.881} y1={1951.5} y2={1978.9}
          shape={noteBox(['New board causes problem', 'after IC changed back 13', 'June 2003 spurious noise !'], 13.4)} />

        <ReferenceArea yAxisId="left" x1={2004.053} x2={2005.904} y1={1908.0} y2={1942.3}
          shape={noteBox(['Visit to Vindeln SL-test', 'before lamp broke 19 Nov', '2003. Prior error due to filter', 'wheel in wrong pos. GQP not'], 12)} />
        <ReferenceLine yAxisId="left" segment={[{ x: 2004.053, y: 1924.5 }, { x: 2003.74, y: 1924.5 }]} shape={Arrow} />

        <ReferenceDot yAxisId="left" x={2004.484} y={1889.4} r={1} shape={textAt(['old sl'])} />
        <ReferenceLine yAxisId="left" segment={[{ x: 2004.203, y: 1888.3 }, { x: 2003.938, y: 1882.3 }]} shape={Arrow} />

        <ReferenceDot yAxisId="left" x={2003.446} y={1853.9} r={1} shape={textAt(['new sl'])} />
        <ReferenceLine yAxisId="left" segment={[{ x: 2003.635, y: 1853.9 }, { x: 2003.868, y: 1862.6 }]} shape={Arrow} />

        <ReferenceArea yAxisId="left" x1={2005.186} x2={2005.609} y1={1882.1} y2={1892.2} shape={tagBox('ICom', '#ccffff')} />
        <ReferenceLine yAxisId="left" segment={[{ x: 2005.434, y: 1882.1 }, { x: 2005.434, y: 1869.7 }]} shape={Arrow} />
      </ScatterChart>
    </div>
  );
}
